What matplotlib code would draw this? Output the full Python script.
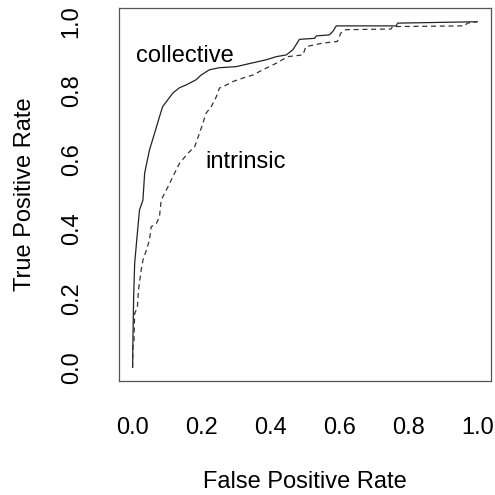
import matplotlib.pyplot as plt

plt.rcParams['font.family'] = ['Liberation Sans', 'DejaVu Sans']

# ROC curve points
coll_fpr = [0.0, 0.001, 0.003, 0.006, 0.012, 0.02, 0.03, 0.035, 0.049, 0.064,
            0.078, 0.087, 0.102, 0.117, 0.136, 0.155, 0.184, 0.199, 0.223,
            0.252, 0.3, 0.348, 0.388, 0.417, 0.446, 0.465, 0.474, 0.484,
            0.528, 0.533, 0.571, 0.581, 0.591, 0.765, 0.769, 1.0]
coll_tpr = [0.0, 0.08, 0.2, 0.3, 0.368, 0.455, 0.484, 0.562, 0.629, 0.678,
            0.725, 0.754, 0.774, 0.794, 0.809, 0.817, 0.832, 0.846, 0.861,
            0.867, 0.87, 0.881, 0.89, 0.899, 0.904, 0.919, 0.933, 0.949,
            0.952, 0.959, 0.962, 0.972, 0.988, 0.988, 0.996, 1.0]

intr_fpr = [0.0, 0.001, 0.004, 0.006, 0.014, 0.017, 0.025, 0.03, 0.04, 0.049,
            0.054, 0.069, 0.078, 0.083, 0.098, 0.117, 0.136, 0.16, 0.18,
            0.194, 0.204, 0.213, 0.228, 0.243, 0.252, 0.272, 0.291, 0.32,
            0.349, 0.378, 0.417, 0.45, 0.494, 0.503, 0.551, 0.594, 0.604,
            0.619, 0.75, 0.754, 0.962, 0.972, 1.0]
intr_tpr = [0.0, 0.059, 0.078, 0.155, 0.175, 0.223, 0.281, 0.31, 0.339, 0.368,
            0.407, 0.416, 0.436, 0.484, 0.513, 0.552, 0.59, 0.619, 0.638,
            0.677, 0.706, 0.735, 0.754, 0.783, 0.808, 0.817, 0.827, 0.837,
            0.846, 0.861, 0.88, 0.899, 0.904, 0.928, 0.938, 0.943, 0.967,
            0.977, 0.979, 0.986, 0.988, 0.996, 1.0]

ticks = [0.0, 0.2, 0.4, 0.6, 0.8, 1.0]
tick_labels = ['0.0', '0.2', '0.4', '0.6', '0.8', '1.0']

fs = 17

fig = plt.figure(figsize=(4.95, 4.95), dpi=100)
ax = fig.add_axes([0.240, 0.230, 0.752, 0.754])

ax.plot(coll_fpr, coll_tpr, color='#222222', lw=0.9)
ax.plot(intr_fpr, intr_tpr, color='#333333', lw=0.9, linestyle=(0, (4, 3)))

ax.text(0.151, 0.901, 'collective', fontsize=fs, ha='center', va='center')
ax.text(0.328, 0.594, 'intrinsic', fontsize=fs, ha='center', va='center')

ax.set_xlim(-0.04, 1.04)
ax.set_ylim(-0.04, 1.04)
ax.set_xticks(ticks)
ax.set_xticklabels(tick_labels)
ax.set_yticks(ticks)
ax.set_yticklabels(tick_labels, rotation=90, va='center')
ax.tick_params(length=0, labelsize=fs, pad=26)
for s in ax.spines.values():
    s.set_color('#555555')
    s.set_linewidth(0.9)

ax.set_xlabel('False Positive Rate', fontsize=fs)
ax.set_ylabel('True Positive Rate', fontsize=fs)
ax.xaxis.set_label_coords(0.5, -0.271)
ax.xaxis.label.set_va('center')
ax.yaxis.set_label_coords(-0.253, 0.5)
ax.yaxis.label.set_va('center')

fig.savefig('out.png', dpi=100)
